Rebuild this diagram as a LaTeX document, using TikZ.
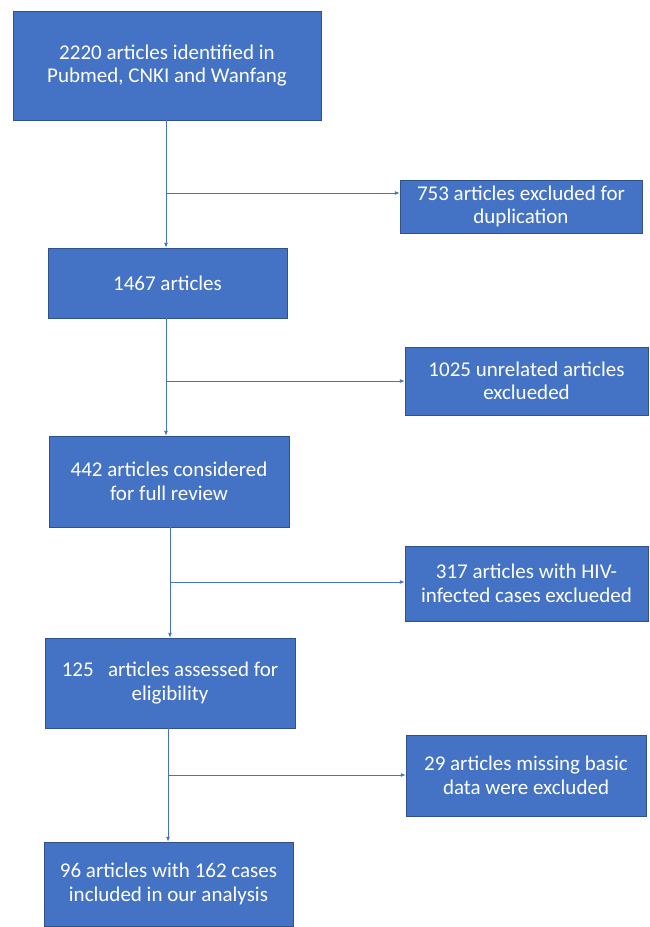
\documentclass[tikz,border=0pt]{standalone}
\usepackage{fontspec}
\setmainfont{Carlito}
\usepackage{xcolor}
\usetikzlibrary{arrows.meta, positioning, calc}
\definecolor{boxblue}{HTML}{4472C4}
\definecolor{boxedge}{HTML}{2F528F}

\begin{document}
\begin{tikzpicture}[x=1pt, y=-1pt, >={Latex[length=5pt,width=4pt]},
    font=\fontsize{21}{23.5}\selectfont,
    stage/.style={draw=boxedge, fill=boxblue, text=white, align=center, inner sep=0pt},
    flow/.style={->, boxblue, line width=0.9pt}]
    \useasboundingbox (0,0) rectangle (649,927);
    % main column
    \node[stage, minimum width=308pt, minimum height=109pt] (ident) at (167,65.5) {2220 articles identified in\\Pubmed, CNKI and Wanfang};
    \node[stage, minimum width=239pt, minimum height=70pt] (dedup) at (167.5,283) {1467 articles};
    \node[stage, minimum width=240pt, minimum height=91pt] (full) at (169,481.5) {442 articles considered\\for full review};
    \node[stage, minimum width=250pt, minimum height=90pt] (elig) at (170,683) {125~~~articles assessed for\\eligibility};
    \node[stage, minimum width=249pt, minimum height=84pt] (incl) at (168.5,884) {96 articles with 162 cases\\included in our analysis};
    % exclusions
    \node[stage, minimum width=242pt, minimum height=53pt] (exdup) at (521,206.5) {753 articles excluded for\\duplication};
    \node[stage, minimum width=243pt, minimum height=68pt] (exunrel) at (526.5,381) {1025 unrelated articles\\exclueded};
    \node[stage, minimum width=243pt, minimum height=75pt] (exhiv) at (526.5,583.5) {317 articles with HIV-\\infected cases exclueded};
    \node[stage, minimum width=240pt, minimum height=81pt] (exmiss) at (526,775.5) {29 articles missing basic\\data were excluded};
    % junctions
    \coordinate (j1) at (166,193);
    \coordinate (j2) at (166,381);
    \coordinate (j3) at (170,582);
    \coordinate (j4) at (168,775);
    \draw[flow] (j1 |- ident.south) -- (j1 |- dedup.north);
    \draw[flow] (j1) -- (j1 -| exdup.west);
    \draw[flow] (j2 |- dedup.south) -- (j2 |- full.north);
    \draw[flow] (j2) -- (j2 -| exunrel.west);
    \draw[flow] (j3 |- full.south) -- (j3 |- elig.north);
    \draw[flow] (j3) -- (j3 -| exhiv.west);
    \draw[flow] (j4 |- elig.south) -- (j4 |- incl.north);
    \draw[flow] (j4) -- (j4 -| exmiss.west);
\end{tikzpicture}
\end{document}
